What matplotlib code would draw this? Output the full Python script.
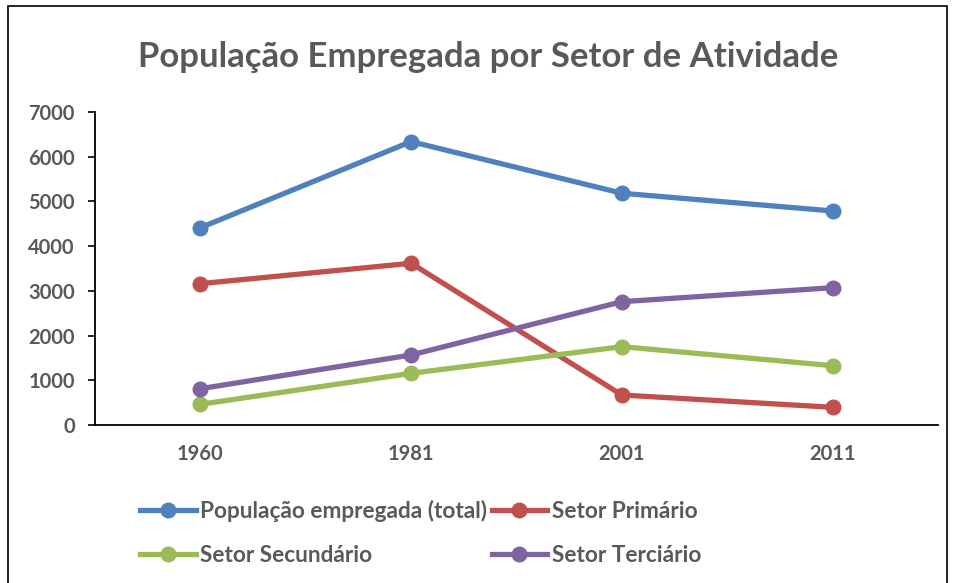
import numpy as np
import matplotlib.pyplot as plt
from matplotlib.patches import Rectangle

anos = ['1960', '1981', '2001', '2011']
total = [4413, 6338, 5183, 4787]
primario = [3161, 3617, 671, 396]
secundario = [463, 1156, 1752, 1327]
terciario = [812, 1566, 2758, 3071]

nomes = ['População empregada (total)', 'Setor Primário', 'Setor Secundário', 'Setor Terciário']
cores = ['#4f81bd', '#c0504d', '#9bbb59', '#8064a2']

plt.rcParams['font.family'] = ['Lato', 'DejaVu Sans']
plt.rcParams['font.weight'] = 'bold'
cinza = '#595959'

fig = plt.figure(figsize=(9.56, 5.83), dpi=100)
ax = fig.add_axes([95/956, 1 - 425/583, (938-95)/956, (425-112)/583])

x = np.arange(len(anos))
linhas = []
for serie, nome, cor in zip([total, primario, secundario, terciario], nomes, cores):
    l, = ax.plot(x, serie, color=cor, lw=3.8, marker='o', ms=10.5, label=nome)
    linhas.append(l)

ax.set_xlim(-0.5, 3.5)
ax.set_ylim(0, 7000)
ax.set_yticks(range(0, 7001, 1000))
ax.set_xticks(x)
ax.set_xticklabels(anos)
ax.tick_params(axis='x', length=0, pad=14, labelsize=14.5, labelcolor=cinza)
ax.tick_params(axis='y', length=5, width=1.2, pad=9.5, labelsize=14.5, labelcolor=cinza)
for s in ['top', 'right']:
    ax.spines[s].set_visible(False)
for s in ['left', 'bottom']:
    ax.spines[s].set_linewidth(1.3)

fig.text(0.511, 1 - 57/583, 'População Empregada por Setor de Atividade',
         ha='center', va='center', fontsize=25, color=cinza, fontweight='bold')

# legenda preenchida por colunas: total/secundario na 1a, primario/terciario na 2a
ordem = [0, 2, 1, 3]
leg = fig.legend(handles=[linhas[i] for i in ordem], labels=[nomes[i] for i in ordem],
                 ncol=2, loc='upper left', bbox_to_anchor=(131/956, 1 - 491/583),
                 borderaxespad=0, frameon=False, fontsize=16.3, handlelength=2.45,
                 handletextpad=0.2, columnspacing=0.2, labelspacing=1.0)
for t in leg.get_texts():
    t.set_color(cinza)

fig.patches.append(Rectangle((8/956, -0.01), (947-8)/956, 1.0, transform=fig.transFigure,
                             fill=False, edgecolor='black', lw=1.2))

fig.savefig('out.png', dpi=100)
